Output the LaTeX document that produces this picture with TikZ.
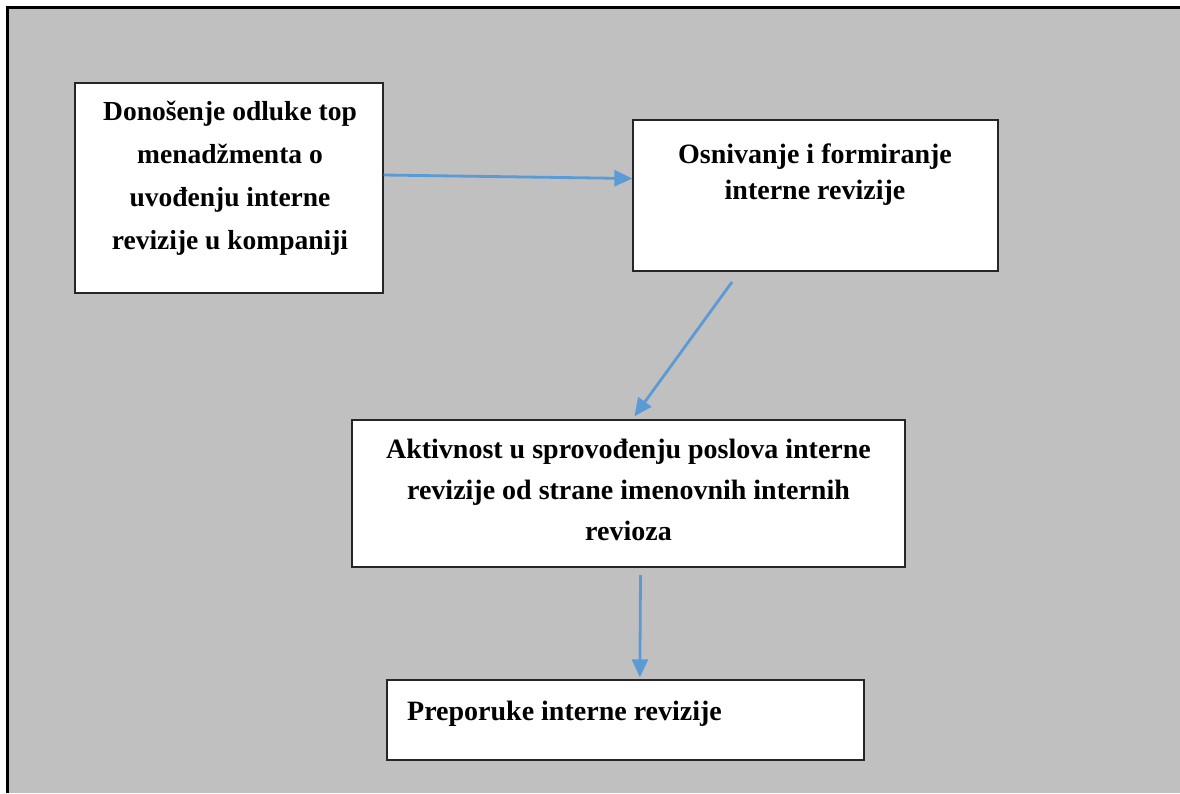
\documentclass[tikz,border=0pt]{standalone}
\usepackage{fontspec}
\setmainfont{Liberation Serif}
\usetikzlibrary{arrows.meta,calc}
\definecolor{panelgray}{HTML}{C0C0C0}
\definecolor{flowblue}{HTML}{5B9BD5}
\begin{document}
\begin{tikzpicture}[x=1pt,y=-1pt,
  stagebox/.style={draw=black!85,line width=1.3pt,fill=white,inner sep=0pt,
    minimum width=#1},
  boxtext/.style={align=center,inner sep=0pt,font=\fontsize{28}{41}\selectfont\bfseries},
  flow/.style={draw=flowblue,line width=2.8pt,
    -{Triangle[length=18pt,width=16pt]}}]
  \useasboundingbox (0,0) rectangle (1180,793);
  % background panel with its left and top rule
  \fill[panelgray] (7.5,7.5) rectangle (1180,793);
  \draw[line width=3pt] (7.5,793) -- (7.5,7.5) -- (1180,7.5);

  % stage boxes
  \node[stagebox=308pt,minimum height=210pt] (b1) at (229,188) {};
  \node[stagebox=365pt,minimum height=151pt] (b2) at (815.5,195.5) {};
  \node[stagebox=553pt,minimum height=147pt] (b3) at (628.5,493.5) {};
  \node[stagebox=477pt,minimum height=80pt]  (b4) at (625.5,720) {};

  % texts
  \node[boxtext,font=\fontsize{27.5}{43}\selectfont\bfseries] (t1) at (230,178)
    {Donošenje odluke top\\menadžmenta o\\uvođenju interne\\revizije u kompaniji};
  \node[boxtext,font=\fontsize{28}{36}\selectfont\bfseries] (t2) at (815,174.5)
    {Osnivanje i formiranje\\interne revizije};
  \node[boxtext] (t3) at (628.5,490)
    {Aktivnost u sprovođenju poslova interne\\revizije od strane imenovnih internih\\revioza};
  \node[boxtext,anchor=base west] (t4) at (407,720) {Preporuke interne revizije};

  % connectors
  \coordinate (c2) at (732,282);
  \coordinate (c3) at (640.5,575);
  \draw[flow] ([yshift=13pt]b1.east) -- ([yshift=17pt]b2.west);
  \draw[flow] (c2) -- ($(b3.north west)+(283,-3)$);
  \draw[flow] (c3) -- ($(b4.north west)+(253.5,-2)$);
\end{tikzpicture}
\end{document}
